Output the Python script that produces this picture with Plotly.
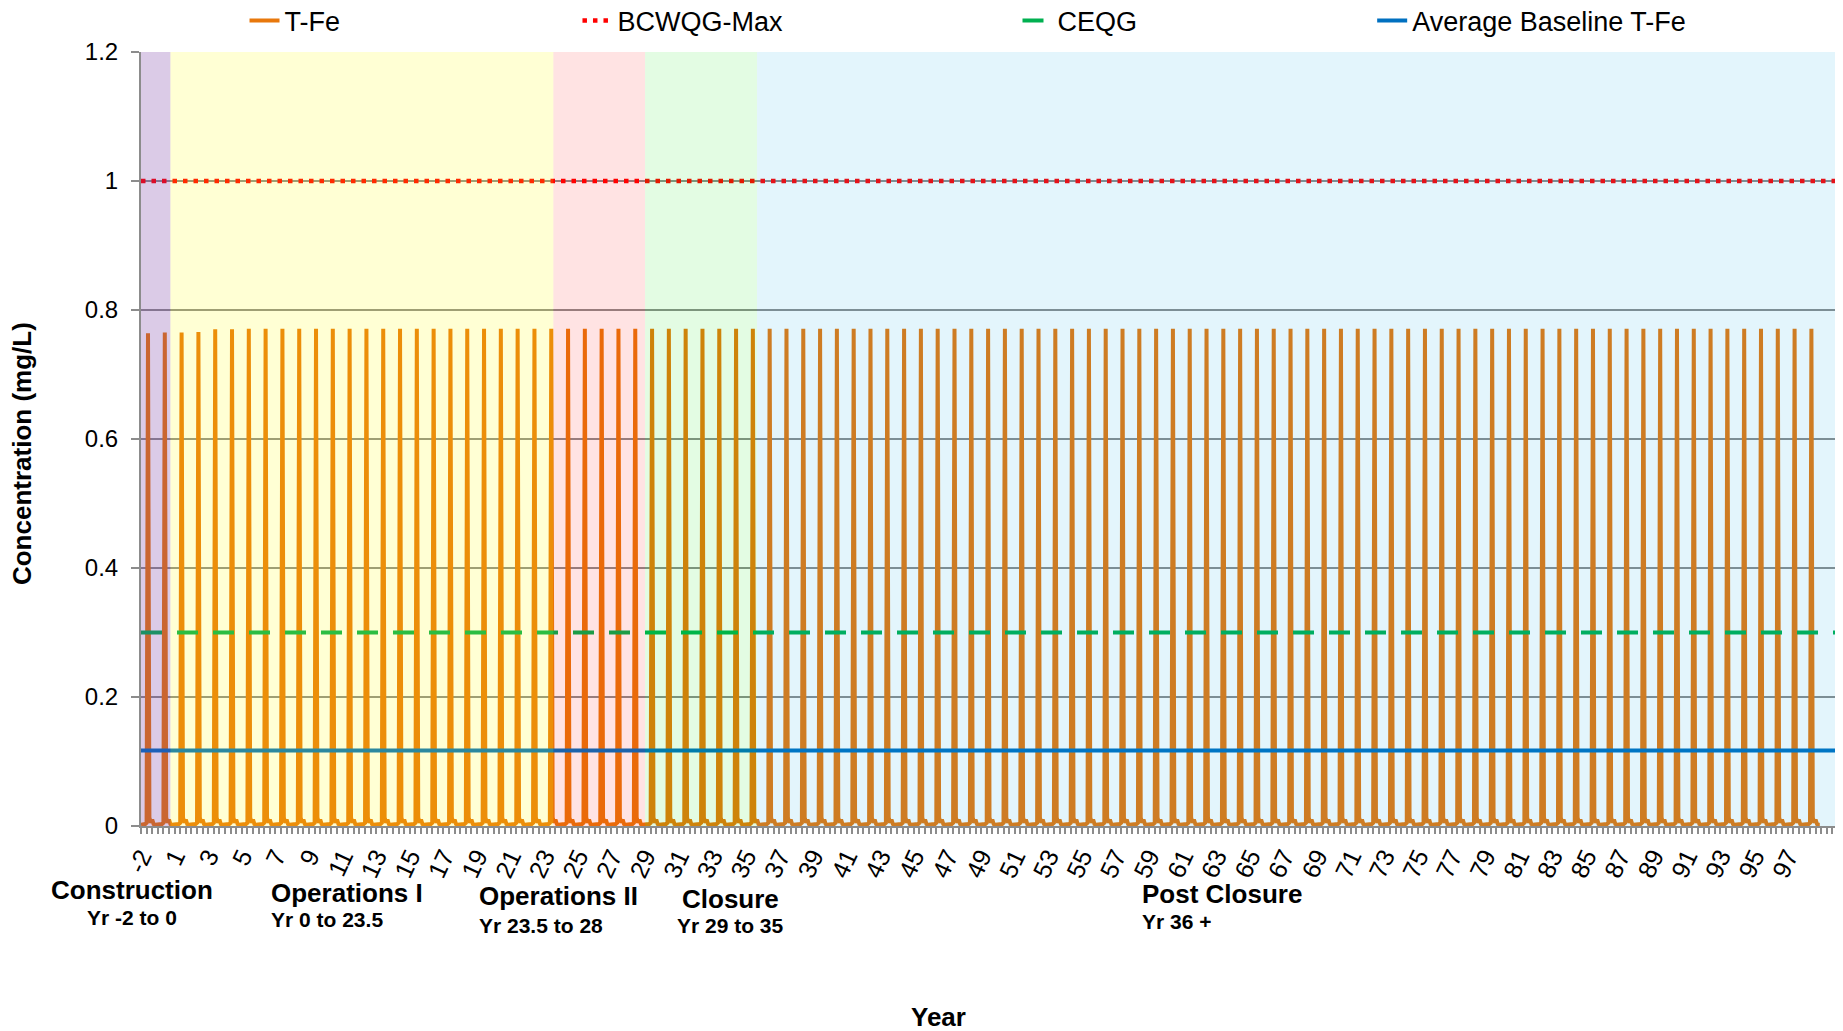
import plotly.graph_objects as go

# ---- values ----
# monthly model output, one spike per simulated year (-2, -1, 1 ... 98)
tfe_peaks = [
    0.764, 0.765, 0.765, 0.766, 0.770, 0.770, 0.771, 0.771, 0.771, 0.771,
    0.771, 0.771, 0.771, 0.771, 0.771, 0.771, 0.771, 0.771, 0.771, 0.771,
    0.771, 0.771, 0.771, 0.771, 0.771, 0.771, 0.771, 0.771, 0.771, 0.771,
    0.771, 0.771, 0.771, 0.771, 0.771, 0.771, 0.771, 0.771, 0.771, 0.771,
    0.771, 0.771, 0.771, 0.771, 0.771, 0.771, 0.771, 0.771, 0.771, 0.771,
    0.771, 0.771, 0.771, 0.771, 0.771, 0.771, 0.771, 0.771, 0.771, 0.771,
    0.771, 0.771, 0.771, 0.771, 0.771, 0.771, 0.771, 0.771, 0.771, 0.771,
    0.771, 0.771, 0.771, 0.771, 0.771, 0.771, 0.771, 0.771, 0.771, 0.771,
    0.771, 0.771, 0.771, 0.771, 0.771, 0.771, 0.771, 0.771, 0.771, 0.771,
    0.771, 0.771, 0.771, 0.771, 0.771, 0.771, 0.771, 0.771, 0.771, 0.771,
]
# shape of the rest of each year (month 0..11); month 5 is the spike
tfe_month_profile = [0.002, 0.002, 0.002, 0.003, 0.005, None, 0.013, 0.005, 0.010, 0.003, 0.002, 0.002]

bcwqg_max = 1.0
ceqg = 0.3
avg_baseline = 0.117

axis_months = 1212  # axis runs one empty year past the data
tick_labels = ["-2"] + [str(y) for y in range(1, 98, 2)]

phase_names = ["Construction", "Operations I", "Operations II", "Closure", "Post Closure"]
phase_years = ["Yr -2 to 0", "Yr 0 to 23.5", "Yr 23.5 to 28", "Yr 29 to 35", "Yr 36 +"]
phase_start = [0, 21, 294.5, 360, 440]      # month index
phase_end = [21, 294.5, 360, 440, axis_months]
phase_tint = ["rgba(112,48,160,0.25)", "rgba(255,255,0,0.17)", "rgba(255,0,0,0.11)",
              "rgba(0,230,0,0.11)", "rgba(0,160,230,0.11)"]

FONT = "Liberation Sans, Arial, sans-serif"
GRID = "#8c8c8c"

# build monthly series
tfe = []
for peak in tfe_peaks:
    for m, v in enumerate(tfe_month_profile):
        tfe.append(peak if v is None else v)
month_idx = list(range(len(tfe)))

fig = go.Figure()

fig.add_trace(go.Scatter(x=month_idx, y=tfe, mode="lines", name="T-Fe", showlegend=True,
                         line=dict(color="#e8780c", width=4), legend="legend"))
fig.add_trace(go.Scatter(x=[0, axis_months], y=[bcwqg_max] * 2, mode="lines", name="BCWQG-Max",
                         line=dict(color="#ff0000", width=4.5, dash="4.5px,6px"), legend="legend2"))
fig.add_trace(go.Scatter(x=[0, axis_months], y=[ceqg] * 2, mode="lines", name="CEQG",
                         line=dict(color="#00b050", width=4, dash="21px,15px"), legend="legend3"))
fig.add_trace(go.Scatter(x=[0, axis_months], y=[avg_baseline] * 2, mode="lines",
                         name="Average Baseline T-Fe",
                         line=dict(color="#0070c0", width=4), legend="legend4"))

# phase shading sits on top of the lines (as in the original)
for x0, x1, c in zip(phase_start, phase_end, phase_tint):
    fig.add_shape(type="rect", xref="x", yref="y", x0=x0, x1=x1, y0=0, y1=1.2,
                  fillcolor=c, line_width=0, layer="above")

# phase labels under the axis
label_pos = [  # (x paper, anchor, y title, y years)
    (-0.0053, "center", -0.083, -0.118),
    (0.0754, "left", -0.087, -0.121),
    (0.198, "left", -0.090, -0.128),
    (0.3471, "center", -0.094, -0.129),
    (0.5887, "left", -0.088, -0.123),
]
for name, yrs, (px, anc, yt, yy) in zip(phase_names, phase_years, label_pos):
    fig.add_annotation(text=f"<b>{name}</b>", x=px, y=yt, xref="paper", yref="paper",
                       xanchor=anc, yanchor="middle", showarrow=False,
                       font=dict(family=FONT, size=26, color="black"))
    fig.add_annotation(text=f"<b>{yrs}</b>", x=px, y=yy, xref="paper", yref="paper",
                       xanchor=anc, yanchor="middle", showarrow=False,
                       font=dict(family=FONT, size=21, color="black"))

fig.add_annotation(text="<b>Year</b>", x=0.4697, y=-0.2468, xref="paper", yref="paper",
                   xanchor="center", yanchor="middle", showarrow=False,
                   font=dict(family=FONT, size=26, color="black"))
fig.add_annotation(text="<b>Concentration (mg/L)</b>", x=-0.0701, y=0.4806, xref="paper",
                   yref="paper", textangle=-90, xanchor="center", yanchor="middle",
                   showarrow=False, font=dict(family=FONT, size=26, color="black"))

leg = dict(orientation="h", yanchor="middle", y=1.04, xanchor="left",
           font=dict(family=FONT, size=27, color="black"), bgcolor="rgba(0,0,0,0)")
# page body adds an 8px offset, so the figure is 8px smaller than the window
fig.update_layout(
    width=1835, height=1023,
    margin=dict(l=133, r=5, t=44, b=205, autoexpand=False),
    plot_bgcolor="white", paper_bgcolor="white",
    showlegend=True,
    font=dict(family=FONT, size=22, color="black"),
    legend=dict(leg, x=0.061),
    legend2=dict(leg, x=0.2572),
    legend3=dict(leg, x=0.5165),
    legend4=dict(leg, x=0.7255),
)

fig.update_xaxes(
    range=[0, axis_months], showgrid=False, zeroline=False, automargin=False,
    showline=True, linecolor=GRID, linewidth=2,
    tickmode="array", tickvals=[24 * i for i in range(len(tick_labels))], ticktext=tick_labels,
    ticks="outside", ticklen=6, tickcolor=GRID, tickwidth=2, tickangle=-65,
    ticklabelstandoff=-2,
    tickfont=dict(family=FONT, size=25, color="black"),
    minor=dict(dtick=4, tick0=0, ticks="outside", ticklen=6, tickcolor=GRID, tickwidth=2),
)
fig.update_yaxes(
    range=[0, 1.2], dtick=0.2, showgrid=True, gridcolor=GRID, gridwidth=1.5,
    zeroline=False, showline=True, linecolor=GRID, linewidth=2, automargin=False,
    ticks="outside", ticklen=8, tickcolor=GRID, tickwidth=1.5, ticklabelstandoff=8,
    tickfont=dict(family=FONT, size=24, color="black"),
)

fig.write_html("out.html")
